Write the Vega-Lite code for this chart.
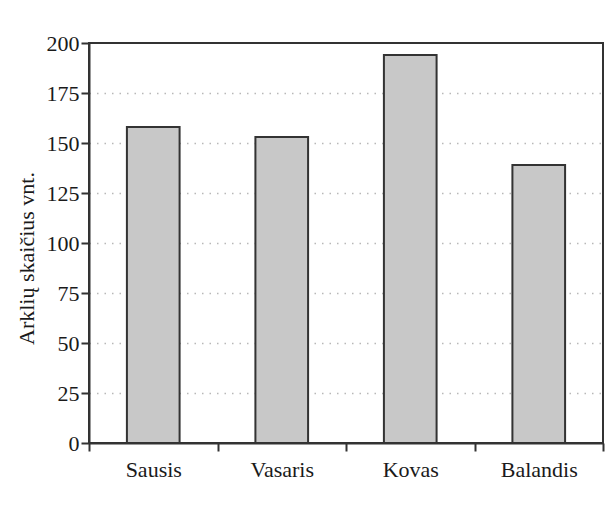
{
  "$schema": "https://vega.github.io/schema/vega-lite/v6.json",
  "width": 514,
  "height": 400,
  "autosize": {"type": "none"},
  "padding": {"left": 89, "top": 43, "right": 9, "bottom": 84},
  "background": "white",
  "data": {
    "values": [
      {"month": "Sausis", "count": 158},
      {"month": "Vasaris", "count": 153},
      {"month": "Kovas", "count": 194},
      {"month": "Balandis", "count": 139}
    ]
  },
  "mark": {"type": "bar", "fill": "#c8c8c8", "stroke": "#333333", "strokeWidth": 2, "width": {"band": 0.41}},
  "encoding": {
    "x": {
      "field": "month",
      "type": "nominal",
      "sort": null,
      "scale": {"paddingInner": 0, "paddingOuter": 0},
      "axis": {
        "title": null,
        "labelAngle": 0,
        "tickBand": "extent",
        "tickSize": 8,
        "tickWidth": 2,
        "tickColor": "#333333",
        "domainColor": "#333333",
        "domainWidth": 2,
        "labelFont": "Liberation Serif",
        "labelFontSize": 22,
        "labelColor": "#1a1a1a",
        "labelPadding": 8
      }
    },
    "y": {
      "field": "count",
      "type": "quantitative",
      "scale": {"domain": [0, 200], "nice": false},
      "axis": {
        "title": "Arklių skaičius vnt.",
        "titleFont": "Liberation Serif",
        "titleFontSize": 22,
        "titleFontWeight": "normal",
        "titleColor": "#1a1a1a",
        "titlePadding": 8,
        "titleY": 215,
        "values": [0, 25, 50, 75, 100, 125, 150, 175, 200],
        "tickSize": 8,
        "tickWidth": 2,
        "tickColor": "#333333",
        "domainColor": "#333333",
        "domainWidth": 2,
        "labelFont": "Liberation Serif",
        "labelFontSize": 22,
        "labelColor": "#1a1a1a",
        "labelPadding": 2,
        "grid": true,
        "gridColor": "#b8b8b8",
        "gridDash": [1.5, 6],
        "gridWidth": 1.5,
        "gridOpacity": {"condition": {"test": "datum.value === 200 || datum.value === 0", "value": 0}, "value": 1}
      }
    }
  },
  "config": {
    "view": {"stroke": "#333333", "strokeWidth": 2}
  }
}
